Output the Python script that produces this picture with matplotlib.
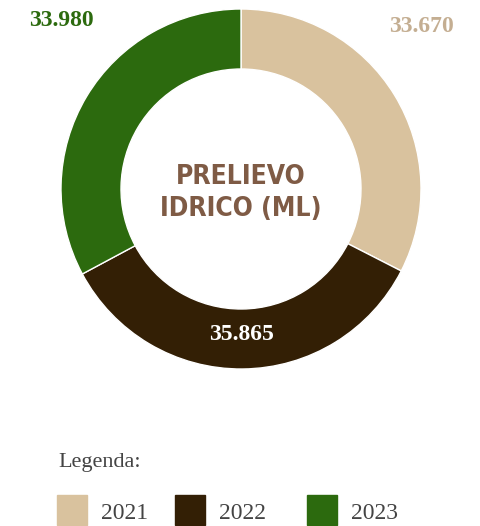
import matplotlib.pyplot as plt
import matplotlib.patches as mpatches

# data
years = ["2021", "2022", "2023"]
values = [33670, 35865, 33980]
value_labels = ["33.670", "35.865", "33.980"]
colors = ["#D9C29E", "#331F05", "#2C6A0E"]
label_colors = ["#C4AE92", "#FFFFFF", "#2C6A0E"]
center_title = "PRELIEVO\nIDRICO (ML)"

W, H = 480, 526
fig = plt.figure(figsize=(W / 100, H / 100), dpi=100)

# donut axes, in pixel units around the centre
cx, cy, half = 241, 189, 200
ax = fig.add_axes([(cx - half) / W, (H - cy - half) / H, 2 * half / W, 2 * half / H])

R = 180
ax.pie(values, colors=colors, radius=R, startangle=90, counterclock=False,
       wedgeprops=dict(width=60, edgecolor="white", linewidth=1))
# pie resets the limits, so set them afterwards
ax.set_xlim(-half, half)
ax.set_ylim(-half, half)
ax.set_aspect("equal")
ax.axis("off")

ax.text(0, -4, center_title, ha="center", va="center", fontsize=19,
        fontweight="bold", fontstretch="condensed", color="#7F5B45",
        family="DejaVu Sans", linespacing=1.3)

# value labels
label_pos = [(180, 162), (0, -145), (-180, 168)]
for (x, y), txt, c in zip(label_pos, value_labels, label_colors):
    ax.text(x, y, txt, ha="center", va="center", fontsize=17,
            fontweight="bold", color=c, family="Liberation Serif")

# legend
fig.text(58 / W, 1 - 467 / H, "Legenda:", fontsize=16, color="#444444",
         family="Liberation Serif", ha="left", va="baseline")
sq_x = [57, 175, 307]
for x, yr, c in zip(sq_x, years, colors):
    fig.patches.append(mpatches.Rectangle((x / W, 1 / H), 30 / W, 30 / H, color=c,
                                          transform=fig.transFigure, figure=fig))
    fig.text((x + 44) / W, 1 - 519 / H, yr, fontsize=17, color="#444444",
             family="Liberation Serif", ha="left", va="baseline")

fig.savefig("out.png", dpi=100)
